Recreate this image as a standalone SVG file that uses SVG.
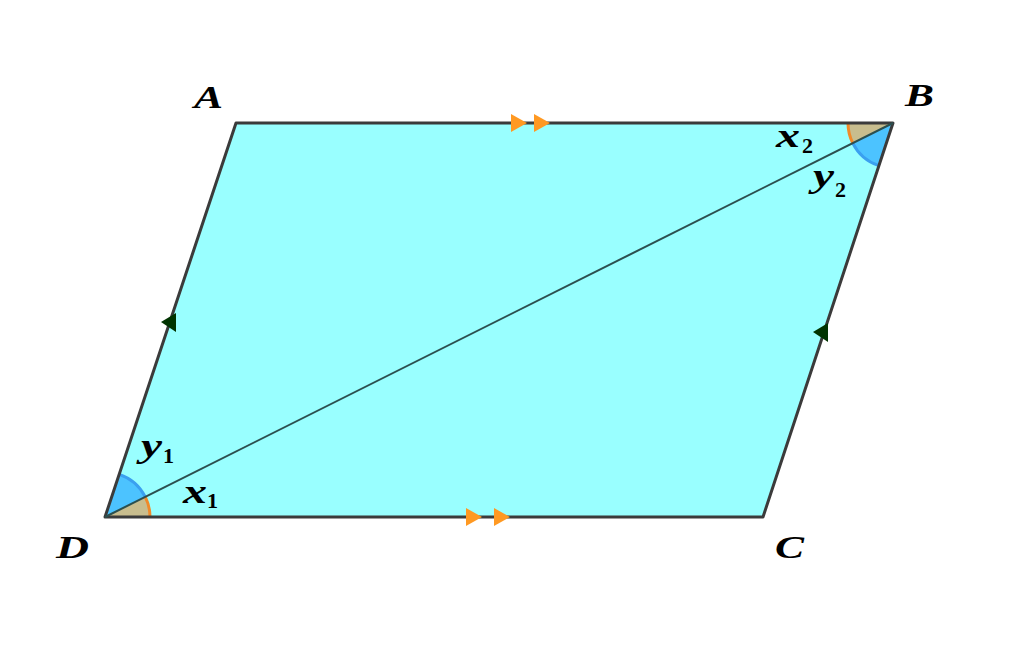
<svg xmlns="http://www.w3.org/2000/svg" width="1024" height="648" viewBox="0 0 1024 648">
<style>
.lbl{font-family:"Liberation Serif","DejaVu Serif",serif;font-style:italic;font-weight:bold;fill:#000}
.sub{font-family:"Liberation Serif","DejaVu Serif",serif;font-weight:bold;fill:#000}
.edge{fill:none;stroke:#3b3b3b;stroke-width:3;stroke-linejoin:round}
.diag{stroke:#2b4f4f;stroke-width:2}
.osec{fill:#c8bd8e;stroke:none}
.bsec{fill:#4cc3ff;stroke:none}
.oarc{fill:none;stroke:#f08a2a;stroke-width:3}
.barc{fill:none;stroke:#3aa0f0;stroke-width:3}
.otri{fill:#ff9922}
.gtri{fill:#003300}
</style>
<rect width="1024" height="648" fill="#ffffff"/>
<g id="parallelogram">
<polygon points="236,123 893,123 763,517 105,517" fill="#99ffff" stroke="none"/>
</g>
<g id="angles">
<path class="osec" d="M105,517 L150,517 A45,45 0 0 0 145.25,496.9 Z"/>
<path class="bsec" d="M105,517 L145.25,496.9 A45,45 0 0 0 119.2,474.3 Z"/>
<path class="oarc" d="M150,517 A45,45 0 0 0 145.25,496.9"/>
<path class="barc" d="M145.25,496.9 A45,45 0 0 0 119.2,474.3"/>
<path class="osec" d="M893,123 L848,123 A45,45 0 0 0 852.75,143.1 Z"/>
<path class="bsec" d="M893,123 L852.75,143.1 A45,45 0 0 0 878.9,165.7 Z"/>
<path class="oarc" d="M848,123 A45,45 0 0 0 852.75,143.1"/>
<path class="barc" d="M852.75,143.1 A45,45 0 0 0 878.9,165.7"/>
</g>
<g id="connectors">
<polygon class="edge" points="236,123 893,123 763,517 105,517"/>
<line class="diag" x1="105" y1="517" x2="893" y2="123"/>
<polygon class="otri" points="511,114 527,123 511,132"/>
<polygon class="otri" points="534,114 550,123 534,132"/>
<polygon class="otri" points="466,508 482,517 466,526"/>
<polygon class="otri" points="494,508 510,517 494,526"/>
<polygon class="gtri" points="161,322 176,313 176,332"/>
<polygon class="gtri" points="813,332 828,323 828,342"/>
</g>
<g id="labels">
<text class="lbl" x="194" y="108" font-size="32" textLength="29" lengthAdjust="spacingAndGlyphs">A</text>
<text class="lbl" x="905" y="106" font-size="32" textLength="29" lengthAdjust="spacingAndGlyphs">B</text>
<text class="lbl" x="775" y="558" font-size="32" textLength="29" lengthAdjust="spacingAndGlyphs">C</text>
<text class="lbl" x="56" y="558" font-size="32" textLength="33" lengthAdjust="spacingAndGlyphs">D</text>
<text class="lbl" x="776" y="147" font-size="33" textLength="24" lengthAdjust="spacingAndGlyphs">x</text><text class="sub" x="802" y="153" font-size="22">2</text>
<text class="lbl" x="813" y="187" font-size="33" textLength="21" lengthAdjust="spacingAndGlyphs">y</text><text class="sub" x="835" y="197" font-size="22">2</text>
<text class="lbl" x="141" y="457" font-size="33" textLength="21" lengthAdjust="spacingAndGlyphs">y</text><text class="sub" x="163" y="463" font-size="22">1</text>
<text class="lbl" x="183" y="503" font-size="33" textLength="24" lengthAdjust="spacingAndGlyphs">x</text><text class="sub" x="207" y="508" font-size="22">1</text>
</g>
</svg>
